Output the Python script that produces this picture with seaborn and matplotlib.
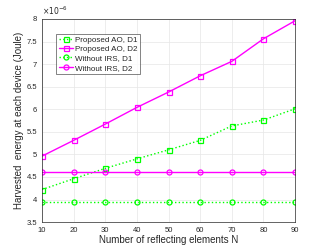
import pandas as pd
import matplotlib
matplotlib.use("Agg")
import matplotlib.pyplot as plt
import seaborn as sns

N = [10, 20, 30, 40, 50, 60, 70, 80, 90]
ao_d1 = [4.22, 4.46, 4.69, 4.90, 5.10, 5.31, 5.63, 5.76, 6.01]
ao_d2 = [4.96, 5.31, 5.67, 6.04, 6.38, 6.74, 7.06, 7.56, 7.96]
noirs_d1 = [3.95] * 9
noirs_d2 = [4.61] * 9

sns.set_style("whitegrid")
plt.rcParams["font.family"] = ["Liberation Sans", "DejaVu Sans"]

fig = plt.figure(figsize=(3.25, 2.49), dpi=100)
ax = fig.add_axes([0.129, 0.108, 0.779, 0.816])

series = [
    ("Proposed AO, D1", ao_d1, "#00ff00", ":", "s"),
    ("Proposed AO, D2", ao_d2, "#ff00ff", "-", "s"),
    ("Without IRS, D1", noirs_d1, "#00ff00", ":", "o"),
    ("Without IRS, D2", noirs_d2, "#ff00ff", "-", "o"),
]
for name, vals, col, ls, mk in series:
    df = pd.DataFrame({"N": N, "E": vals})
    sns.lineplot(data=df, x="N", y="E", ax=ax, color=col, linestyle=ls,
                 marker=mk, markersize=3.6, markerfacecolor="none",
                 markeredgecolor=col, markeredgewidth=0.9, linewidth=1.0,
                 label=name)

ax.set_xlim(10, 90)
ax.set_ylim(3.5, 8)
ax.set_xticks(N)
ax.set_yticks([3.5, 4, 4.5, 5, 5.5, 6, 6.5, 7, 7.5, 8])
ax.set_yticklabels(["3.5", "4", "4.5", "5", "5.5", "6", "6.5", "7", "7.5", "8"])
ax.tick_params(labelsize=5.5, colors="#262626", direction="in", length=2)
ax.grid(True, color="#e6e6e6", linewidth=0.5)
for s in ax.spines.values():
    s.set_color("#262626")
    s.set_linewidth(0.5)
ax.set_xlabel("Number of reflecting elements N", fontsize=7, labelpad=1)
ax.set_ylabel("Harvested  energy at each device (Joule)", fontsize=7, labelpad=2)
ax.text(0.0, 1.01, r"$\times10^{-6}$", transform=ax.transAxes, fontsize=5.5,
        color="#262626", va="bottom")

leg = ax.legend(loc="upper left", bbox_to_anchor=(0.05, 0.935), fontsize=5.8,
                frameon=True, fancybox=False, edgecolor="#262626",
                handlelength=1.8, borderpad=0.3, labelspacing=0.2,
                handletextpad=0.25, borderaxespad=0.2)
leg.get_frame().set_linewidth(0.5)

fig.savefig("out.png", dpi=100)
